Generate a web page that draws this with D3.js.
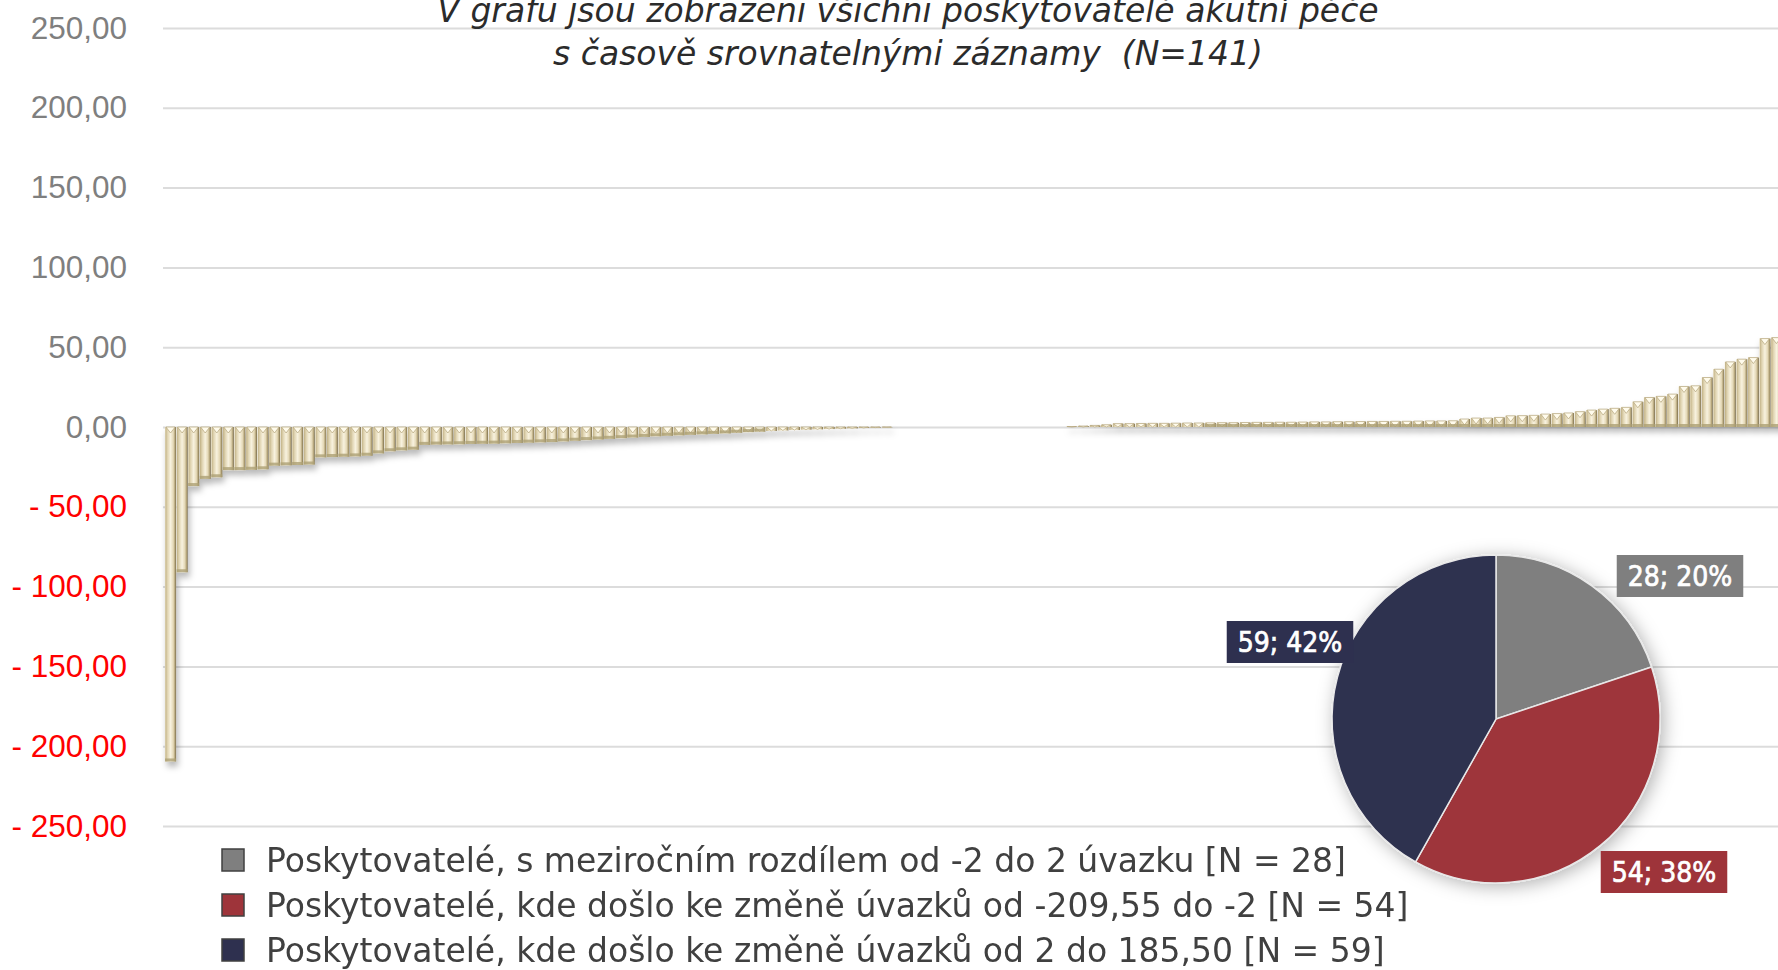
<!DOCTYPE html>
<html>
<head>
<meta charset="utf-8">
<script src="https://cdn.jsdelivr.net/npm/d3@7"></script>
<style>
  html, body { margin: 0; padding: 0; background: #ffffff; overflow: hidden; }
  svg { display: block; font-family: "DejaVu Sans Condensed", "DejaVu Sans", sans-serif; font-stretch: condensed; }
  .wide { font-family: "DejaVu Sans", sans-serif; font-stretch: normal; }
</style>
</head>
<body>
<svg id="chart" width="1778" height="970"></svg>
<script>
// Year-on-year change in FTE per provider, sorted ascending (N = 141)
const decreaseValues = [
  -209.55, -91.0, -37.0, -32.5, -31.5, -27.0, -27.0, -26.8, -26.5, -24.2,
  -24.0, -23.8, -23.5, -19.0, -18.8, -18.6, -18.4, -18.0, -16.5, -15.2,
  -14.6, -14.2, -11.2, -11.0, -10.9, -10.8, -10.6, -10.5, -10.4, -10.2,
  -10.0, -9.8, -9.6, -9.4, -9.0, -8.6, -8.2, -7.8, -7.4, -7.0,
  -6.6, -6.2, -5.8, -5.5, -5.2, -4.9, -4.6, -4.3, -4.0, -3.6,
  -3.2, -2.9, -2.5, -2.2
];
const stableValues = [
  -1.9, -1.7, -1.5, -1.3, -1.1, -0.9, -0.6, -0.4, -0.2,
  0, 0, 0, 0, 0, 0, 0, 0, 0, 0, 0, 0, 0, 0, 0,
  0.3, 0.6, 1.0, 1.4
];
const increaseValues = [
  2.1, 2.1, 2.2, 2.3, 2.3, 2.4, 2.5, 2.5, 2.6, 2.7,
  2.7, 2.8, 2.9, 2.9, 3.0, 3.0, 3.1, 3.2, 3.2, 3.3,
  3.3, 3.4, 3.5, 3.5, 3.6, 3.6, 3.7, 3.8, 3.8,
  3.9, 5.0, 5.6, 5.6, 6.0, 7.0, 7.1, 7.3, 8.1, 8.4,
  8.8, 9.6, 10.6, 11.2, 11.7, 12.3, 15.8, 18.5, 19.2, 20.6,
  25.4, 25.8, 31.0, 36.2, 40.8, 42.5, 43.5, 55.4, 56.0,
  185.5
];

const yTickValues = [250, 200, 150, 100, 50, 0, -50, -100, -150, -200, -250];

const titleLines = [
  "V grafu jsou zobrazeni všichni poskytovatelé akutní péče",
  "s časově srovnatelnými záznamy  (N=141)"
];

const groupNames = [
  "Poskytovatelé, s meziročním rozdílem od -2 do 2 úvazku [N = 28]",
  "Poskytovatelé, kde došlo ke změně úvazků od -209,55 do -2 [N = 54]",
  "Poskytovatelé, kde došlo ke změně úvazků od 2 do 185,50 [N = 59]"
];
const groupCounts = [28, 54, 59];

// ---- styling ----
const groupColors = ["#7F7F7F", "#9E343A", "#2E304F"];
const labelOffsets = [[184, -143], [168, 153], [-206, -77]];

const W = 1778, H = 970;
const svg = d3.select("#chart");
const defs = svg.append("defs");

// bevelled beige bar body
const bodyGrad = defs.append("linearGradient").attr("id", "barBody")
  .attr("x1", 0).attr("x2", 1).attr("y1", 0).attr("y2", 0);
[[0, "#F1E9D0"], [0.07, "#C6B78D"], [0.22, "#DFD3B0"], [0.5, "#F8F2DF"],
 [0.75, "#E4D8B6"], [0.9, "#B2A277"], [1, "#74684A"]].forEach(([o, c]) =>
  bodyGrad.append("stop").attr("offset", o).attr("stop-color", c));

const barShadow = defs.append("filter").attr("id", "barShadow")
  .attr("x", "-10%").attr("y", "-10%").attr("width", "130%").attr("height", "130%");
barShadow.append("feDropShadow").attr("dx", 2).attr("dy", 5)
  .attr("stdDeviation", 3).attr("flood-color", "#000").attr("flood-opacity", 0.28);

const pieShadow = defs.append("filter").attr("id", "pieShadow")
  .attr("x", "-20%").attr("y", "-20%").attr("width", "140%").attr("height", "140%");
pieShadow.append("feDropShadow").attr("dx", 3).attr("dy", 3)
  .attr("stdDeviation", 9).attr("flood-color", "#000").attr("flood-opacity", 0.3);

// ---- scales ----
const values = decreaseValues.concat(stableValues, increaseValues);
const step = 11.55;
const plotLeft = 163, bandLeft = 165;
const x = d3.scaleBand()
  .domain(d3.range(values.length))
  .range([bandLeft, bandLeft + values.length * step])
  .paddingInner(0.04).paddingOuter(0);
const y = d3.scaleLinear().domain([-250, 250]).range([826, 28]);

// ---- axis with gridlines ----
const numFmt = d3.formatLocale({ decimal: ",", thousands: " ", grouping: [3], currency: ["", ""] }).format(".2f");
const tickLabel = v => v < 0 ? "- " + numFmt(-v) : numFmt(v);

const axis = svg.append("g")
  .attr("transform", `translate(${plotLeft},0)`)
  .call(d3.axisLeft(y).tickValues(yTickValues).tickFormat(tickLabel)
    .tickSize(-(W - plotLeft)).tickPadding(36));
axis.select(".domain").remove();
axis.selectAll(".tick line").attr("stroke", "#DCDCDC").attr("stroke-width", 2);
axis.selectAll(".tick text")
  .attr("font-size", 31.5)
  .attr("fill", d => d < 0 ? "#FF0000" : "#7F7F7F");

// ---- bars ----
const bars = svg.append("g").attr("filter", "url(#barShadow)");
const barG = bars.selectAll("g.bar").data(values).join("g").attr("class", "bar");
barG.each(function (v, i) {
  const g = d3.select(this);
  const x0 = x(i), w = x.bandwidth();
  const top = Math.min(y(v), y(0));
  const h = Math.abs(y(v) - y(0));
  if (h <= 0) return;
  g.append("rect").attr("x", x0).attr("y", top).attr("width", w).attr("height", h)
    .attr("fill", "url(#barBody)");
  const cap = Math.min(6, h);
  // light V-shaped bevel facet on the upper end
  g.append("path")
    .attr("d", `M${x0 + 1},${top} L${x0 + w - 1},${top} L${x0 + w / 2},${top + cap} Z`)
    .attr("fill", "#FFFBEC").attr("stroke", "#B3A47A").attr("stroke-width", 0.7);
  // darker lip on the lower end
  if (h > 4) {
    g.append("rect").attr("x", x0).attr("y", top + h - 3).attr("width", w).attr("height", 3)
      .attr("fill", "#ADA074").attr("opacity", 0.8);
  }
});

// ---- title ----
svg.append("g").selectAll("text").data(titleLines).join("text")
  .attr("class", "wide")
  .attr("x", 908).attr("y", (d, i) => 22 + i * 43)
  .attr("text-anchor", "middle")
  .attr("font-size", 33).attr("font-style", "italic")
  .attr("fill", "#2B2B2B")
  .style("white-space", "pre")
  .text(d => d);

// ---- pie ----
const cx = 1496, cy = 719, R = 164;
const pie = d3.pie().sort(null).value(d => d);
const arcs = pie(groupCounts);
const arc = d3.arc().innerRadius(0).outerRadius(R);
const total = d3.sum(groupCounts);

const pieG = svg.append("g").attr("transform", `translate(${cx},${cy})`);
pieG.append("g").attr("filter", "url(#pieShadow)")
  .selectAll("path").data(arcs).join("path")
  .attr("d", arc)
  .attr("fill", (d, i) => groupColors[i])
  .attr("stroke", "#E8E8E8").attr("stroke-width", 1.5);

const lbl = pieG.append("g").selectAll("g").data(arcs).join("g")
  .attr("transform", (d, i) => `translate(${labelOffsets[i][0]},${labelOffsets[i][1]})`);
lbl.append("text")
  .attr("text-anchor", "middle").attr("dy", "0.36em")
  .attr("font-size", 28).attr("fill", "#FFFFFF")
  .attr("stroke", "#FFFFFF").attr("stroke-width", 0.7)
  .text(d => `${d.data}; ${Math.round(d.data / total * 100)}%`);
lbl.each(function (d, i) {
  const g = d3.select(this);
  const bb = g.select("text").node().getBBox();
  g.insert("rect", "text")
    .attr("x", -bb.width / 2 - 11).attr("y", -21)
    .attr("width", bb.width + 22).attr("height", 42)
    .attr("fill", groupColors[i]);
});

// ---- legend ----
const legend = svg.append("g").attr("transform", "translate(222,0)");
const rows = legend.selectAll("g").data(groupNames).join("g")
  .attr("transform", (d, i) => `translate(0,${860 + i * 45})`);
rows.append("rect").attr("x", 0).attr("y", -11).attr("width", 22).attr("height", 22)
  .attr("fill", (d, i) => groupColors[i]).attr("stroke", "#404040").attr("stroke-width", 1.5);
rows.append("text").attr("class", "wide").attr("x", 44).attr("dy", "0.36em")
  .attr("font-size", 33).attr("fill", "#404040")
  .text(d => d);
</script>
</body>
</html>
